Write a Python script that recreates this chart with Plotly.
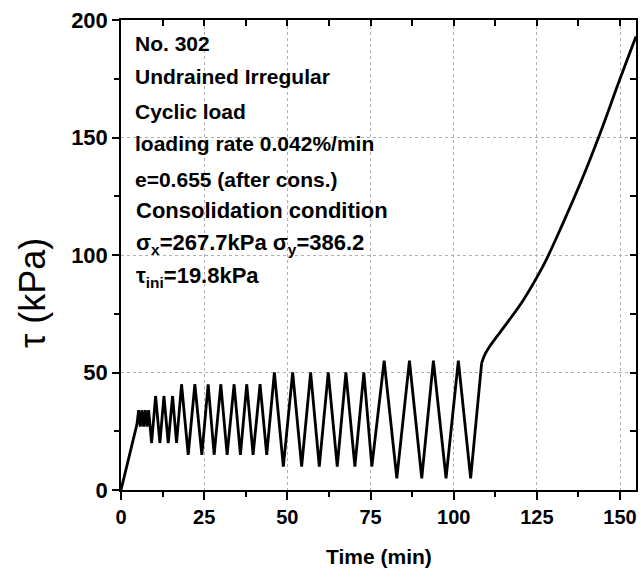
import plotly.graph_objects as go

# shear stress history (time in min, tau in kPa)
time_min = [0, 4.8, 5.3, 5.8, 6.3, 6.8, 7.3, 7.8, 8.3, 9.2,
            10.4, 11.7, 12.9, 14.2, 15.5, 16.7,
            18.2, 20.2, 22.2, 24.3, 26.2, 28.0, 30.0, 31.9, 34.0, 35.9,
            37.8, 39.7, 41.8, 43.8,
            46.1, 48.8, 51.6, 54.3, 57.0, 59.6, 62.3, 65.0, 67.6, 70.3,
            73.0, 75.4,
            79.1, 82.9, 86.7, 90.4, 93.9, 97.7, 101.4, 105.1,
            108.4, 109.5, 111, 116, 121, 125, 128, 133, 138.5, 143.8,
            150, 154.8]
tau_kpa = [0, 28, 34, 27, 34, 27, 34, 27, 34, 20,
           40, 20, 40, 20, 40, 20,
           45, 15, 45, 15, 45, 15, 45, 15, 45, 15,
           45, 15, 45, 15,
           50, 10, 50, 10, 50, 10, 50, 10, 50, 10,
           50, 10,
           55, 5, 55, 5, 55, 5, 55, 5,
           54, 58, 61.5, 71, 81, 90.5, 98.5, 114, 132, 151,
           175, 193]
KINK = 50  # index where the monotonic loading starts

info_lines = ["No. 302", "Undrained Irregular", "Cyclic load",
              "loading rate 0.042%/min", "e=0.655 (after cons.)"]
info_y = [190.2, 175.8, 160.9, 147.3, 132.0]
cons_lines = ["Consolidation condition",
              "σ<sub>x</sub>=267.7kPa σ<sub>y</sub>=386.2",
              "τ<sub>ini</sub>=19.8kPa"]
cons_y = [118.8, 104.5, 90.5]

FONT = "Liberation Sans, Arial, sans-serif"
X_MAX = 154.8

fig = go.Figure()
# cyclic part: straight segments
fig.add_trace(go.Scatter(
    x=time_min[:KINK + 1], y=tau_kpa[:KINK + 1], mode='lines',
    line=dict(color='black', width=2.8),
    showlegend=False
))
# monotonic part: smooth curve
fig.add_trace(go.Scatter(
    x=time_min[KINK:], y=tau_kpa[KINK:], mode='lines',
    line=dict(color='black', width=2.8, shape='spline', smoothing=1.2),
    showlegend=False
))
# dummy trace so the top/right mirror axes get drawn
fig.add_trace(go.Scatter(x=[None], y=[None], xaxis='x2', yaxis='y2',
                         showlegend=False, hoverinfo='skip'))

annotations = []
for txt, yy in zip(info_lines, info_y):
    annotations.append(dict(x=3.6, y=yy, xref='x', yref='y', text="<b>" + txt + "</b>",
                            showarrow=False, xanchor='left', yanchor='middle',
                            font=dict(family=FONT, size=21, color='black')))
for txt, yy in zip(cons_lines, cons_y):
    annotations.append(dict(x=3.9, y=yy, xref='x', yref='y', text="<b>" + txt + "</b>",
                            showarrow=False, xanchor='left', yanchor='middle',
                            font=dict(family=FONT, size=22, color='black')))
# axis titles
annotations.append(dict(x=-0.172, y=0.42, xref='paper', yref='paper',
                        text="τ (kPa)", textangle=-90, showarrow=False,
                        xanchor='center', yanchor='middle',
                        font=dict(family=FONT, size=36, color='black')))
annotations.append(dict(x=0.5, y=-0.141, xref='paper', yref='paper',
                        text="<b>Time (min)</b>", showarrow=False,
                        xanchor='center', yanchor='middle',
                        font=dict(family=FONT, size=21, color='black')))

fig.update_layout(
    width=641, height=582,
    margin=dict(l=121, r=5, t=20, b=92),
    paper_bgcolor='white', plot_bgcolor='white',
    font=dict(family=FONT, color='black'),
    annotations=annotations,
    xaxis=dict(
        range=[0, X_MAX], tick0=0, dtick=25, automargin=False,
        ticks='outside', ticklen=8, tickwidth=1.5, tickcolor='black',
        showline=True, linecolor='black', linewidth=1.5,
        showgrid=True, gridcolor='#b0b0b0', griddash='dot', gridwidth=1,
        zeroline=False,
        tickfont=dict(family=FONT, size=20, color='black', weight='bold'),
        minor=dict(dtick=12.5, ticks='outside', ticklen=5, tickcolor='black',
                   showgrid=False),
    ),
    yaxis=dict(
        range=[0, 200], tick0=0, dtick=50, automargin=False,
        ticks='outside', ticklen=7, tickwidth=1.5, tickcolor='black',
        showline=True, linecolor='black', linewidth=1.5,
        showgrid=True, gridcolor='#b0b0b0', griddash='dot', gridwidth=1,
        zeroline=False,
        tickfont=dict(family=FONT, size=22, color='black', weight='bold'),
        minor=dict(dtick=25, ticks='outside', ticklen=5, tickcolor='black',
                   showgrid=False),
    ),
    xaxis2=dict(
        overlaying='x', side='top', anchor='y2', range=[0, X_MAX],
        automargin=False,
        tick0=0, dtick=12.5, ticks='inside', ticklen=6, tickwidth=1.5,
        tickcolor='black', showticklabels=False, showline=True,
        linecolor='black', linewidth=1.5, showgrid=False, zeroline=False,
    ),
    yaxis2=dict(
        overlaying='y', side='right', anchor='x2', range=[0, 200],
        automargin=False,
        tick0=0, dtick=25, ticks='inside', ticklen=6, tickwidth=1.5,
        tickcolor='black', showticklabels=False, showline=True,
        linecolor='black', linewidth=1.5, showgrid=False, zeroline=False,
    ),
)

# drop the default 8px page margin so the figure fills the window exactly
fig.write_html("out.html", config={'displayModeBar': False},
               post_script="document.body.style.margin = '0';")
